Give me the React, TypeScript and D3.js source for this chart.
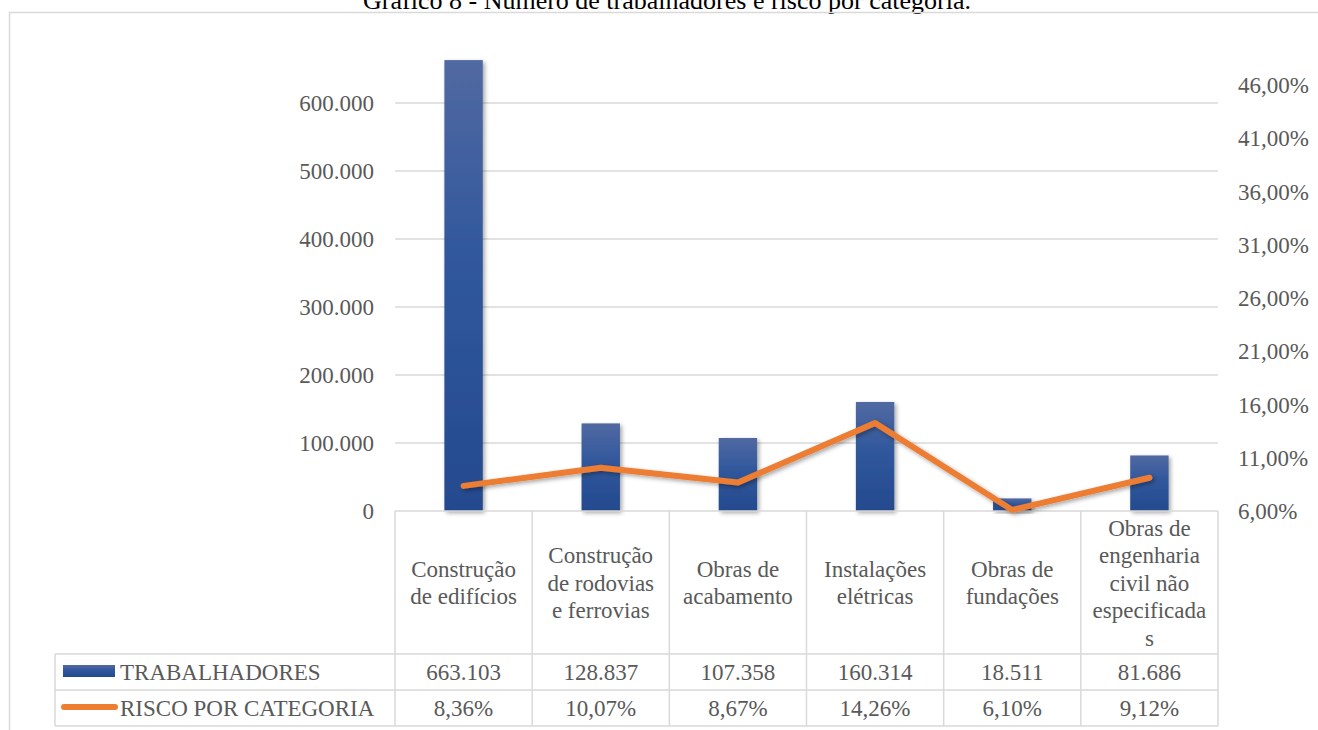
import React from "react";
import * as d3 from "d3";

// Categories (header lines as they wrap in the table)
const categories = [
  "Construção de edifícios",
  "Construção de rodovias e ferrovias",
  "Obras de acabamento",
  "Instalações elétricas",
  "Obras de fundações",
  "Obras de engenharia civil não especificadas",
];
const categoryLines = [
  ["Construção", "de edifícios"],
  ["Construção", "de rodovias", "e ferrovias"],
  ["Obras de", "acabamento"],
  ["Instalações", "elétricas"],
  ["Obras de", "fundações"],
  ["Obras de", "engenharia", "civil não", "especificada", "s"],
];
const trabalhadores = [663103, 128837, 107358, 160314, 18511, 81686];
const risco = [0.0836, 0.1007, 0.0867, 0.1426, 0.061, 0.0912];
const leftTicks = [0, 100000, 200000, 300000, 400000, 500000, 600000];
const rightTicks = [0.06, 0.11, 0.16, 0.21, 0.26, 0.31, 0.36, 0.41, 0.46];
const seriesNames = ["TRABALHADORES", "RISCO POR CATEGORIA"];
const title = "Gráfico 8 - Número de trabalhadores e risco por categoria.";

const W = 1318;
const H = 730;
const FONT = "'Liberation Serif', 'Times New Roman', serif";
const TEXT = "#595959";
const GRID = "#d9d9d9";
const ORANGE = "#ed7d31";

const ptBR = d3.formatLocale({
  decimal: ",",
  thousands: ".",
  grouping: [3],
  currency: ["R$", ""],
});
const fmtInt = ptBR.format(",.0f");
const fmtPct = ptBR.format(".2%");

export default function App() {
  const plotLeft = 395;
  const plotRight = 1218;
  const baseY = 511;

  const x = d3.scaleBand<string>().domain(categories).range([plotLeft, plotRight]).padding(0);
  const yLeft = d3.scaleLinear().domain([0, 600000]).range([baseY, 103]);
  const yRight = d3.scaleLinear().domain([0.06, 0.46]).range([baseY, 85]);

  const bw = x.bandwidth();
  const barW = bw * 0.28;
  const cx = (c: string) => (x(c) as number) + bw / 2;

  const line = d3
    .line<number>()
    .x((_, i) => cx(categories[i]))
    .y((d) => yRight(d));

  const headerBottom = 654;
  const row1Bottom = 690;
  const row2Bottom = 726;
  const legendLeft = 55;
  const lineH = 27.5;
  const colEdges = categories.map((c) => x(c) as number).concat([plotRight]);

  return (
    <svg
      width={W}
      height={H}
      viewBox={`0 0 ${W} ${H}`}
      style={{ position: "absolute", left: 0, top: 0, background: "#fff" }}
      fontFamily={FONT}
    >
      <defs>
        <linearGradient id="barGrad" x1="0" y1="0" x2="0" y2="1">
          <stop offset="0%" stopColor="#5169a2" />
          <stop offset="45%" stopColor="#30579c" />
          <stop offset="100%" stopColor="#244a8e" />
        </linearGradient>
        <filter id="shadow" x="-50%" y="-20%" width="200%" height="140%">
          <feDropShadow dx="2" dy="2" stdDeviation="2" floodColor="#000" floodOpacity="0.35" />
        </filter>
      </defs>

      {/* Title */}
      <text x={667} y={9} textAnchor="middle" fontSize={26} fill="#000">
        {title}
      </text>

      {/* Outer frame */}
      <path d={`M9.5,${H} V12.5 H${W}`} fill="none" stroke={GRID} strokeWidth={1.5} />

      {/* Gridlines */}
      {leftTicks.slice(1).map((t) => (
        <line key={t} x1={plotLeft} x2={plotRight} y1={yLeft(t)} y2={yLeft(t)} stroke={GRID} strokeWidth={1.5} />
      ))}

      {/* Left axis labels */}
      {leftTicks.map((t) => (
        <text key={t} x={374} y={yLeft(t)} dy="0.35em" textAnchor="end" fontSize={23} fill={TEXT}>
          {fmtInt(t)}
        </text>
      ))}

      {/* Right axis labels */}
      {rightTicks.map((t) => (
        <text key={t} x={1238} y={yRight(t)} dy="0.35em" textAnchor="start" fontSize={23} fill={TEXT}>
          {fmtPct(t)}
        </text>
      ))}

      {/* Bars */}
      {trabalhadores.map((v, i) => (
        <rect
          key={i}
          x={cx(categories[i]) - barW / 2}
          y={yLeft(v)}
          width={barW}
          height={baseY - yLeft(v)}
          fill="url(#barGrad)"
          filter="url(#shadow)"
        />
      ))}

      {/* Data table grid */}
      <g stroke={GRID} strokeWidth={1.5} fill="none">
        <line x1={plotLeft} x2={plotRight} y1={baseY} y2={baseY} />
        <line x1={legendLeft} x2={plotRight} y1={headerBottom} y2={headerBottom} />
        <line x1={legendLeft} x2={plotRight} y1={row1Bottom} y2={row1Bottom} />
        <line x1={legendLeft} x2={plotRight} y1={row2Bottom} y2={row2Bottom} />
        <line x1={legendLeft} x2={legendLeft} y1={headerBottom} y2={row2Bottom} />
        {colEdges.map((e, i) => (
          <line key={i} x1={e} x2={e} y1={baseY} y2={row2Bottom} />
        ))}
      </g>

      {/* Risk line */}
      <path
        d={line(risco) as string}
        fill="none"
        stroke={ORANGE}
        strokeWidth={6}
        strokeLinecap="round"
        strokeLinejoin="round"
        filter="url(#shadow)"
      />

      {/* Category header text */}
      {categoryLines.map((lines, i) => {
        const mid = (baseY + headerBottom) / 2;
        const start = mid - ((lines.length - 1) * lineH) / 2;
        return (
          <text key={i} textAnchor="middle" fontSize={23} fill={TEXT}>
            {lines.map((l, j) => (
              <tspan key={j} x={cx(categories[i])} y={start + j * lineH} dy="0.35em">
                {l}
              </tspan>
            ))}
          </text>
        );
      })}

      {/* Legend keys */}
      <rect x={63} y={665} width={52} height={12} fill="url(#barGrad)" />
      <line x1={64} x2={115} y1={707} y2={707} stroke={ORANGE} strokeWidth={6} strokeLinecap="round" />
      <text x={120} y={(headerBottom + row1Bottom) / 2} dy="0.35em" fontSize={23} fill={TEXT}>
        {seriesNames[0]}
      </text>
      <text x={120} y={(row1Bottom + row2Bottom) / 2} dy="0.35em" fontSize={23} fill={TEXT}>
        {seriesNames[1]}
      </text>

      {/* Table values */}
      {trabalhadores.map((v, i) => (
        <text key={i} x={cx(categories[i])} y={(headerBottom + row1Bottom) / 2} dy="0.35em" textAnchor="middle" fontSize={23} fill={TEXT}>
          {fmtInt(v)}
        </text>
      ))}
      {risco.map((v, i) => (
        <text key={i} x={cx(categories[i])} y={(row1Bottom + row2Bottom) / 2} dy="0.35em" textAnchor="middle" fontSize={23} fill={TEXT}>
          {fmtPct(v)}
        </text>
      ))}
    </svg>
  );
}
